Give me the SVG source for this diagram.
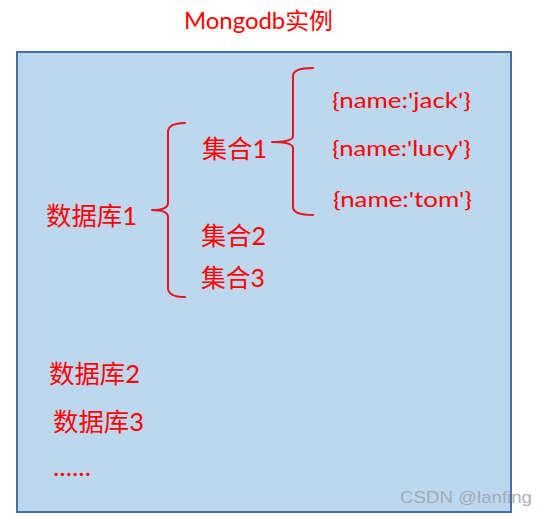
<svg xmlns="http://www.w3.org/2000/svg" width="550" height="519" viewBox="0 0 550 519">
<style>
.t{font-family:"Lato","Noto Sans CJK SC",sans-serif;fill:#FF0000}
.cn{font-size:25px}
.doc{font-size:22px}
.br{fill:none;stroke:#E8141C;stroke-width:2;stroke-linejoin:round;stroke-linecap:round}
</style>
<rect width="550" height="519" fill="#FFFFFF"/>
<g id="title"><text class="t" x="184" y="29" font-size="23" textLength="149" lengthAdjust="spacingAndGlyphs">Mongodb实例</text></g>
<g id="instance"><rect x="17" y="52" width="494" height="460" fill="#BDD7EE" stroke="#41719C" stroke-width="2"/></g>
<g id="db1"><text class="t cn" x="46" y="225" textLength="91" lengthAdjust="spacingAndGlyphs">数据库1</text></g>
<g id="col1"><text class="t cn" x="202" y="158" textLength="65" lengthAdjust="spacingAndGlyphs">集合1</text></g>
<g id="col2"><text class="t cn" x="201" y="245" textLength="65" lengthAdjust="spacingAndGlyphs">集合2</text></g>
<g id="col3"><text class="t cn" x="201" y="287" textLength="64" lengthAdjust="spacingAndGlyphs">集合3</text></g>
<g id="doc1"><text class="t doc" x="332" y="108" textLength="139" lengthAdjust="spacingAndGlyphs">{name:'jack'}</text></g>
<g id="doc2"><text class="t doc" x="332" y="156" textLength="139" lengthAdjust="spacingAndGlyphs">{name:'lucy'}</text></g>
<g id="doc3"><text class="t doc" x="333" y="207" textLength="139" lengthAdjust="spacingAndGlyphs">{name:'tom'}</text></g>
<g id="db2"><text class="t cn" x="49" y="383" textLength="91" lengthAdjust="spacingAndGlyphs">数据库2</text></g>
<g id="db3"><text class="t cn" x="53" y="431" textLength="91" lengthAdjust="spacingAndGlyphs">数据库3</text></g>
<g id="more"><text class="t cn" x="53" y="476" textLength="38" lengthAdjust="spacingAndGlyphs">......</text></g>
<g id="connectors">
<path class="br" d="M185,123 Q168,123 168,132 L168,203 Q168,210 152,210 Q168,210 168,217 L168,288 Q168,297 185,297"/>
<path class="br" d="M313,68 Q293,68 293,76 L293,136 Q293,142 272,142 Q293,142 293,148 L293,207 Q293,215 313,215"/>
</g>
<g id="watermark"><text x="400" y="503" font-family="Liberation Sans, sans-serif" font-size="17" fill="#9AA6B2" fill-opacity="0.9" textLength="132" lengthAdjust="spacingAndGlyphs">CSDN @lanfing</text></g>
</svg>
